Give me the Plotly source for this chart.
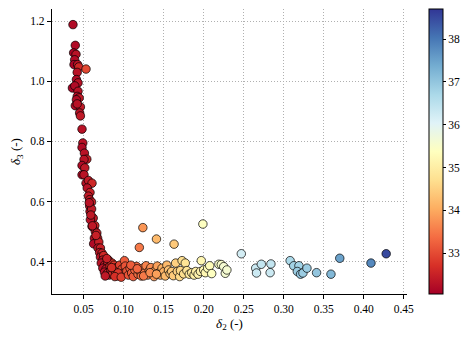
import plotly.graph_objects as go

# upper branch of the front (steep part)
curve_d2 = [0.0367, 0.0396, 0.0375, 0.0405, 0.0388, 0.0380, 0.0425, 0.0440, 0.0530, 0.0420,
            0.0410, 0.0430, 0.0360, 0.0390, 0.0430, 0.0420, 0.0445, 0.0410, 0.0396, 0.0460,
            0.0420, 0.0450, 0.0460, 0.0480, 0.0490, 0.0480, 0.0510, 0.0540, 0.0505, 0.0480,
            0.0515, 0.0480, 0.0505, 0.0530, 0.0560, 0.0605, 0.0545, 0.0580, 0.0560, 0.0575,
            0.0600, 0.0575, 0.0580, 0.0600, 0.0620, 0.0605, 0.0640, 0.0646, 0.0665, 0.0634,
            0.0675, 0.0625, 0.0690, 0.0680, 0.0584, 0.0610, 0.0710, 0.0590, 0.0655, 0.0570]
curve_d3 = [1.189, 1.120, 1.095, 1.090, 1.072, 1.056, 1.056, 1.048, 1.041, 1.030,
            1.006, 0.995, 0.978, 0.985, 0.967, 0.950, 0.945, 0.939, 0.919, 0.915,
            0.925, 0.895, 0.885, 0.841, 0.795, 0.780, 0.761, 0.741, 0.740, 0.720,
            0.712, 0.689, 0.689, 0.661, 0.670, 0.661, 0.645, 0.630, 0.618, 0.606,
            0.598, 0.585, 0.567, 0.575, 0.545, 0.517, 0.520, 0.500, 0.495, 0.478,
            0.478, 0.459, 0.465, 0.445, 0.539, 0.519, 0.445, 0.555, 0.487, 0.596]
curve_t = [32.2, 32.2, 32.1, 32.3, 32.2, 32.1, 32.3, 32.6, 33.0, 32.3,
           32.2, 32.3, 32.1, 32.2, 32.3, 32.2, 32.4, 32.2, 32.2, 32.4,
           32.3, 32.3, 32.4, 32.3, 32.3, 32.2, 32.3, 32.5, 32.3, 32.2,
           32.4, 32.2, 32.3, 32.3, 32.4, 32.6, 32.3, 32.5, 32.4, 32.4,
           32.5, 32.3, 32.3, 32.4, 32.4, 32.2, 32.6, 32.4, 32.5, 32.3,
           32.5, 32.2, 32.5, 32.4, 32.3, 32.4, 32.5, 32.4, 32.5, 32.3]

# knee
knee_d2 = [0.0700, 0.0730, 0.0710, 0.0750, 0.0740, 0.0770, 0.0720, 0.0760, 0.0810, 0.0800,
           0.0740, 0.0780, 0.0830, 0.0855, 0.0760, 0.0800, 0.0840, 0.0875, 0.0880, 0.0820,
           0.0860, 0.0900, 0.0910, 0.0940, 0.0950, 0.0920, 0.0960, 0.0980, 0.1010, 0.1000,
           0.1020, 0.0790, 0.0850, 0.0930, 0.0770, 0.0890, 0.0970]
knee_d3 = [0.430, 0.428, 0.415, 0.420, 0.405, 0.400, 0.395, 0.388, 0.405, 0.392,
           0.378, 0.375, 0.385, 0.395, 0.365, 0.362, 0.370, 0.372, 0.388, 0.355,
           0.358, 0.365, 0.380, 0.372, 0.388, 0.352, 0.358, 0.375, 0.403, 0.362,
           0.385, 0.410, 0.380, 0.362, 0.352, 0.350, 0.348]
knee_t = [32.4, 32.5, 32.3, 32.6, 32.4, 32.5, 32.3, 32.4, 32.6, 32.5,
          32.3, 32.4, 32.6, 32.7, 32.3, 32.5, 32.6, 32.7, 32.8, 32.5,
          32.6, 32.8, 32.8, 32.9, 32.9, 32.7, 32.9, 33.0, 33.2, 33.0,
          33.1, 32.5, 32.7, 32.8, 32.4, 32.7, 32.9]

# flat band
band_d2 = [0.104, 0.106, 0.108, 0.110, 0.112, 0.114, 0.116, 0.118, 0.120, 0.122,
           0.124, 0.126, 0.128, 0.130, 0.132, 0.134, 0.136, 0.138, 0.140, 0.142,
           0.144, 0.146, 0.148, 0.150, 0.152, 0.154, 0.156, 0.158, 0.160, 0.162,
           0.165, 0.167, 0.170, 0.171, 0.173, 0.175, 0.177, 0.179, 0.182, 0.185,
           0.188, 0.190, 0.193, 0.196, 0.197, 0.200, 0.202, 0.205, 0.2075, 0.210,
           0.219, 0.222, 0.225, 0.227, 0.229, 0.109, 0.117, 0.125, 0.133, 0.141]
band_d3 = [0.368, 0.355, 0.378, 0.362, 0.350, 0.372, 0.384, 0.358, 0.368, 0.352,
           0.378, 0.362, 0.386, 0.355, 0.370, 0.380, 0.360, 0.350, 0.372, 0.385,
           0.362, 0.355, 0.378, 0.366, 0.352, 0.388, 0.372, 0.360, 0.367, 0.353,
           0.395, 0.367, 0.350, 0.370, 0.403, 0.359, 0.395, 0.370, 0.358, 0.363,
           0.355, 0.367, 0.358, 0.367, 0.403, 0.372, 0.363, 0.378, 0.386, 0.360,
           0.391, 0.390, 0.383, 0.361, 0.372, 0.388, 0.376, 0.352, 0.363, 0.358]
band_t = [33.1, 33.1, 33.2, 33.2, 33.2, 33.3, 33.3, 33.4, 33.4, 33.4,
          33.5, 33.5, 33.6, 33.6, 33.7, 33.7, 33.8, 33.8, 33.9, 33.9,
          34.0, 34.0, 34.1, 34.1, 34.2, 34.2, 34.3, 34.3, 34.4, 34.4,
          34.5, 34.5, 34.6, 34.6, 34.7, 34.7, 34.8, 34.8, 34.9, 34.9,
          35.0, 35.0, 35.1, 35.1, 35.2, 35.2, 35.2, 35.3, 35.3, 35.4,
          35.5, 35.5, 35.6, 35.6, 35.6, 33.2, 33.3, 33.5, 33.7, 33.9]

# scattered points above the band
out_d2 = [0.124, 0.141, 0.1196, 0.163, 0.199]
out_d3 = [0.513, 0.475, 0.447, 0.458, 0.525]
out_t = [33.8, 34.2, 33.5, 34.4, 35.4]

# tail at large delta_2
tail_d2 = [0.247, 0.265, 0.266, 0.272, 0.284, 0.283, 0.308, 0.3125, 0.319, 0.317,
           0.321, 0.324, 0.329, 0.341, 0.359, 0.370, 0.409, 0.428]
tail_d3 = [0.426, 0.378, 0.362, 0.391, 0.392, 0.363, 0.403, 0.386, 0.386, 0.367,
           0.358, 0.362, 0.378, 0.363, 0.358, 0.411, 0.395, 0.426]
tail_t = [36.2, 36.3, 36.3, 36.4, 36.4, 36.3, 36.7, 36.8, 36.8, 36.9,
          37.0, 36.9, 36.9, 37.0, 37.2, 37.5, 37.8, 38.5]

d2 = curve_d2 + knee_d2 + band_d2 + out_d2 + tail_d2
d3 = curve_d3 + knee_d3 + band_d3 + out_d3 + tail_d3
temp = curve_t + knee_t + band_t + out_t + tail_t

rdylbu = ['rgb(165,0,38)', 'rgb(215,48,39)', 'rgb(244,109,67)', 'rgb(253,174,97)',
          'rgb(254,224,144)', 'rgb(255,255,191)', 'rgb(224,243,248)', 'rgb(171,217,233)',
          'rgb(116,173,209)', 'rgb(69,117,180)', 'rgb(49,54,149)']
cscale = [[i / 10, c] for i, c in enumerate(rdylbu)]

font = dict(family='Liberation Serif, DejaVu Serif, serif', size=11.5, color='black')
title_font = dict(family='Liberation Serif, DejaVu Serif, serif', size=13, color='black')

fig = go.Figure(go.Scatter(
    x=d2, y=d3, mode='markers',
    marker=dict(size=8.5, color=temp, colorscale=cscale, cmin=32.05, cmax=38.7,
                line=dict(color='black', width=0.7),
                colorbar=dict(thickness=14, len=1, lenmode='fraction', y=0.5, yanchor='middle',
                              x=1.061, xanchor='left', xpad=0, ypad=0,
                              outlinecolor='black', outlinewidth=1,
                              ticks='outside', ticklen=3, tickcolor='black',
                              tickvals=[33, 34, 35, 36, 37, 38], tickfont=font)),
    showlegend=False))

axis_common = dict(showline=True, linecolor='black', linewidth=1.2, mirror=False,
                   ticks='outside', ticklen=4, tickwidth=1, tickcolor='black',
                   showgrid=True, gridcolor='#b0b0b0', gridwidth=0.8, griddash='1px,2px',
                   zeroline=False, tickfont=font, automargin=False)

fig.update_layout(
    template='none',
    width=473, height=341,
    margin=dict(l=52, r=66, t=9, b=47, autoexpand=False),
    paper_bgcolor='white', plot_bgcolor='white',
    font=font,
    xaxis=dict(range=[0.0105, 0.454], tickvals=[0.05, 0.1, 0.15, 0.2, 0.25, 0.3, 0.35, 0.4, 0.45],
               tickformat='.2f', title=dict(text='<i>δ</i><sub>2</sub> (-)', standoff=4, font=title_font),
               **axis_common),
    yaxis=dict(range=[0.292, 1.241], tickvals=[0.4, 0.6, 0.8, 1.0, 1.2], tickformat='.1f',
               title=dict(text='<i>δ</i><sub>3</sub> (-)', standoff=6, font=title_font),
               **axis_common),
)

# drop the default page margin so the figure sits at the window's corner
fig.write_html("out.html", config={'displayModeBar': False},
               post_script="document.body.style.margin='0';")
